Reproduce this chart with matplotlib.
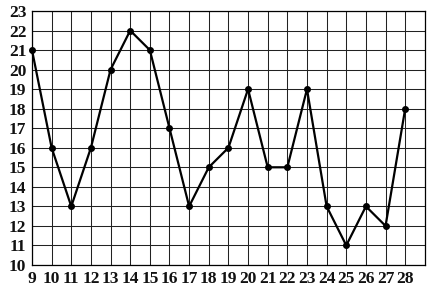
import matplotlib
matplotlib.use('Agg')
import matplotlib.pyplot as plt

# дни и значения
days = list(range(9, 29))
values = [21, 16, 13, 16, 20, 22, 21, 17, 13, 15, 16, 19, 15, 15, 19, 13, 11, 13, 12, 18]
y_ticks = list(range(10, 24))

fig = plt.figure(figsize=(4.30, 2.87), dpi=100)
ax = fig.add_axes([0.0744, 0.0767, 0.9136, 0.885])

ax.set_xlim(9, 29)
ax.set_ylim(10, 23)
ax.set_xticks(days)
ax.set_yticks(y_ticks)
ax.grid(True, color='#222222', linewidth=0.75)
ax.set_axisbelow(True)
ax.tick_params(length=0, pad=4)
for lab in ax.get_xticklabels() + ax.get_yticklabels():
    lab.set_fontfamily('Liberation Serif')
    lab.set_fontweight('bold')
    lab.set_fontsize(12.5)
    lab.set_color('#111111')
for s in ax.spines.values():
    s.set_linewidth(0.9)

ax.plot(days, values, color='black', linewidth=1.6, marker='o', markersize=4, clip_on=False)

plt.savefig('out.png', dpi=100)
